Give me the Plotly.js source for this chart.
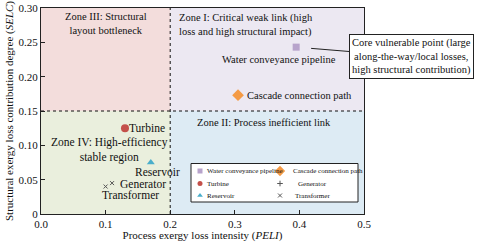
<!DOCTYPE html>
<html><head><meta charset="utf-8">
<script src="https://cdn.plot.ly/plotly-3.0.1.min.js"></script>
<style>html,body{margin:0;padding:0;background:#fff}#chart{width:480px;height:242px}</style>
</head><body><div id="chart"></div>
<script>
// ---- data ----
const categories = ['Water conveyance pipeline','Cascade connection path','Turbine','Reservoir','Generator','Transformer'];
const peli = [0.395, 0.305, 0.130, 0.170, 0.110, 0.100];
const selc = [0.243, 0.173, 0.125, 0.075, 0.045, 0.040];
const xTicks = [0, 0.1, 0.2, 0.3, 0.4, 0.5];
const xTickText = ['0.0','0.1','0.2','0.3','0.4','0.5'];
const yTicks = [0, 0.05, 0.10, 0.15, 0.20, 0.25, 0.30];
const yTickText = ['0','0.05','0.10','0.15','0.20','0.25','0.30'];
const xSplit = 0.2, ySplit = 0.15;

// ---- styles ----
const FONT = 'Liberation Serif, Times New Roman, serif';
const symbols = ['square','diamond','circle','triangle-up','x-thin','x-thin'];
const legendSymbols = ['square','diamond','circle','triangle-up','cross-thin','x-thin'];
const colors = ['#b7a3cb','#f49a45','#c4504a','#4aaecb','#555555','#555555'];
const sizes = [7, 9, 8, 7, 4, 4];
const legSizes = [5, 8, 5, 5, 4, 4];

// pixel geometry of the plot area
const L = 41, R = 116, T = 8, B = 28, W = 480, H = 242;
const pw = W - L - R, ph = H - T - B;
const px2x = p => (p - L) / pw * 0.5;
const py2y = p => (H - B - p) / ph * 0.3;

const traces = categories.map((c, i) => ({
  type: 'scatter', mode: 'markers', name: c, showlegend: false,
  x: [peli[i]], y: [selc[i]],
  marker: {symbol: symbols[i], size: sizes[i], color: colors[i],
           line: {width: symbols[i] === 'x-thin' ? 1 : 0, color: colors[i]}},
  hoverinfo: 'skip'
}));

// manual legend (two columns, three rows)
const legCol = [200, 280];
const legRow = [171, 183.5, 195.5];
const legOrder = [[0,0],[1,0],[0,1],[0,2],[1,1],[1,2]]; // per category: [col,row]
const legTextX = [205, 291, 205, 205, 296, 293];       // per category text start
const legKeys = categories.map((c, i) => ({
  type: 'scatter', mode: 'markers', showlegend: false, hoverinfo: 'skip',
  x: [px2x(legCol[legOrder[i][0]])], y: [py2y(legRow[legOrder[i][1]])],
  marker: {symbol: legendSymbols[i], size: legSizes[i], color: colors[i],
           line: {width: legendSymbols[i].endsWith('thin') ? 1 : 0, color: colors[i]}}
}));

const annFont = (s) => ({family: FONT, size: s, color: '#111'});
const annotations = [
  {x: xSplit/2, y: 0.3, text: 'Zone III: Structural<br>layout bottleneck', showarrow: false,
   xanchor: 'center', yanchor: 'top', yshift: -1, font: annFont(10.5), align: 'center'},
  {x: xSplit, y: 0.3, text: 'Zone I: Critical weak link (high<br>loss and high structural impact)', showarrow: false,
   xanchor: 'left', yanchor: 'top', xshift: 7, yshift: -2, font: annFont(10.5), align: 'left'},
  {x: 0.35, y: ySplit, text: 'Zone II: Process inefficient link', showarrow: false,
   xanchor: 'center', yanchor: 'top', xshift: -3, yshift: -4, font: annFont(10.5)},
  {x: xSplit/2, y: 0.1, text: 'Zone IV: High-efficiency<br>stable region', showarrow: false,
   xanchor: 'center', yanchor: 'middle', xshift: 4, yshift: -5, font: annFont(11.5), align: 'center'},
  // point labels
  {x: peli[0], y: selc[0], text: categories[0], showarrow: false, xanchor: 'center', yanchor: 'middle',
   xshift: -17, yshift: -12, font: annFont(10.5)},
  {x: peli[1], y: selc[1], text: categories[1], showarrow: false, xanchor: 'left', yanchor: 'middle',
   xshift: 7, font: annFont(10.5)},
  {x: peli[2], y: selc[2], text: categories[2], showarrow: false, xanchor: 'left', yanchor: 'middle',
   xshift: 2, font: annFont(11.5)},
  {x: peli[3], y: selc[3], text: categories[3], showarrow: false, xanchor: 'center', yanchor: 'middle',
   xshift: 7, yshift: -9, font: annFont(11.5)},
  {x: peli[4], y: selc[4], text: categories[4], showarrow: false, xanchor: 'left', yanchor: 'middle',
   xshift: 6, yshift: -1, font: annFont(11.5)},
  {x: peli[5], y: selc[5], text: categories[5], showarrow: false, xanchor: 'center', yanchor: 'middle',
   xshift: 25, yshift: -8, font: annFont(11.5)},
  // callout
  {x: peli[0], y: selc[0], text: 'Core vulnerable point (large<br>along-the-way/local losses,<br>high structural contribution)',
   showarrow: true, arrowhead: 0, arrowwidth: 1, arrowcolor: '#222', ax: 115.5, ay: 9.5, standoff: 15,
   bgcolor: '#ffffff', bordercolor: '#222', borderwidth: 1, borderpad: 2, font: annFont(10.5), align: 'center'}
];
// legend texts
categories.forEach((c, i) => {
  annotations.push({x: px2x(legTextX[i]), y: py2y(legRow[legOrder[i][1]]), text: c,
    showarrow: false, xanchor: 'left', yanchor: 'middle', font: annFont(7)});
});

const shapes = [
  {type: 'rect', layer: 'below', x0: 0, x1: xSplit, y0: ySplit, y1: 0.3, fillcolor: '#f3dddc', line: {width: 0}},
  {type: 'rect', layer: 'below', x0: xSplit, x1: 0.5, y0: ySplit, y1: 0.3, fillcolor: '#ece8f2', line: {width: 0}},
  {type: 'rect', layer: 'below', x0: 0, x1: xSplit, y0: 0, y1: ySplit, fillcolor: '#eaefdd', line: {width: 0}},
  {type: 'rect', layer: 'below', x0: xSplit, x1: 0.5, y0: 0, y1: ySplit, fillcolor: '#ddebf4', line: {width: 0}},
  {type: 'line', layer: 'below', x0: xSplit, x1: xSplit, y0: 0, y1: 0.3, line: {color: '#111', width: 1, dash: 'dot'}},
  {type: 'line', layer: 'below', x0: 0, x1: 0.5, y0: ySplit, y1: ySplit, line: {color: '#111', width: 1, dash: 'dot'}},
  {type: 'rect', layer: 'between', x0: px2x(191), x1: px2x(358), y0: py2y(202), y1: py2y(163.5),
   fillcolor: '#ffffff', line: {color: '#222', width: 1}}
];

const axisCommon = {showgrid: false, zeroline: false, showline: true, linecolor: '#222', linewidth: 1, mirror: true,
  ticks: 'inside', ticklen: 4, tickcolor: '#222', tickfont: {family: FONT, size: 11, color: '#111'}};

const layout = {
  width: W, height: H, margin: {l: L, r: R, t: T, b: B},
  paper_bgcolor: '#fff', plot_bgcolor: '#fff', showlegend: false,
  xaxis: Object.assign({}, axisCommon, {range: [0, 0.5], tickvals: xTicks, ticktext: xTickText, ticklabelstandoff: 0,
    title: {text: 'Process exergy loss intensity (<i>PELI</i>)', font: {family: FONT, size: 11, color: '#111'}, standoff: 2}}),
  yaxis: Object.assign({}, axisCommon, {range: [0, 0.3], tickvals: yTicks, ticktext: yTickText,
    title: {text: 'Structural exergy loss contribution degree (<i>SELC</i>)', font: {family: FONT, size: 11, color: '#111'}, standoff: 2}}),
  shapes, annotations
};

Plotly.newPlot('chart', traces.concat(legKeys), layout, {displayModeBar: false, staticPlot: true});
</script></body></html>
